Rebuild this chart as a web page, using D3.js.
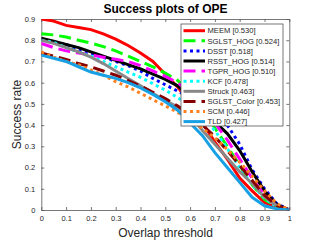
<!DOCTYPE html>
<html>
<head>
<meta charset="utf-8">
<script src="https://cdn.jsdelivr.net/npm/d3@7"></script>
<style>
  body { margin: 0; background: #fff; }
  text { font-family: "Liberation Sans", Arial, sans-serif; }
</style>
</head>
<body>
<div id="fig"></div>
<script>
const fig_width = 320
const fig_height = 240

// overlap thresholds 0:0.05:1
const thresholds = d3.range(21).map(i => i / 20)

const trackers = ['MEEM [0.530]', 'SGLST_HOG [0.524]', 'DSST [0.518]', 'RSST_HOG [0.514]', 'TGPR_HOG [0.510]',
    'KCF [0.478]', 'Struck [0.463]', 'SGLST_Color [0.453]', 'SCM [0.446]', 'TLD [0.427]']

const meem = [.90, .89, .87, .86, .85, .83, .805, .775, .74, .70, .64, .58, .50, .41, .32, .24, .15, .09, .035, .01, 0]
const sglst_hog = [.83, .825, .815, .80, .787, .77, .75, .725, .70, .675, .645, .61, .55, .48, .385, .30, .21, .12, .05, .015, 0]
const dsst = [.805, .79, .78, .755, .74, .72, .70, .68, .655, .62, .59, .56, .53, .495, .47, .40, .31, .19, .10, .03, 0]
const rsst_hog = [.81, .795, .78, .765, .745, .725, .705, .685, .665, .64, .615, .585, .535, .48, .415, .36, .28, .18, .09, .025, 0]
const tgpr_hog = [.785, .765, .75, .74, .73, .72, .71, .70, .68, .655, .63, .60, .55, .49, .41, .33, .24, .15, .07, .02, 0]
const kcf = [.80, .79, .765, .745, .725, .70, .675, .65, .625, .595, .565, .53, .49, .435, .375, .29, .20, .12, .055, .015, 0]
const struck = [.80, .785, .765, .745, .72, .69, .655, .62, .585, .55, .515, .485, .445, .375, .31, .245, .18, .125, .06, .02, 0]
const sglst_color = [.74, .725, .71, .69, .675, .655, .635, .61, .585, .555, .525, .49, .45, .40, .345, .28, .21, .14, .07, .02, 0]
const scm = [.745, .72, .70, .685, .66, .635, .605, .58, .55, .52, .49, .46, .425, .385, .34, .285, .225, .16, .09, .03, 0]
const tld = [.73, .715, .70, .675, .65, .635, .62, .60, .575, .545, .51, .47, .41, .35, .27, .20, .13, .06, .02, .005, 0]

const series = [meem, sglst_hog, dsst, rsst_hog, tgpr_hog, kcf, struck, sglst_color, scm, tld]
const colours = ['#ff0000', '#00ff00', '#0000ff', '#000000', '#ff00ff', '#00ffff', '#888888', '#850000', '#ff8020', '#18a0e4']
const dashes = [null, '12,6', '3,3.5', null, '12,6', '3,3.5', null, '12,6', '3,3.5', null]

const x_ticks = d3.range(11).map(i => i / 10)
const y_ticks = d3.range(10).map(i => i / 10)

let margin = {left: 41.3, right: 30.7, top: 19, bottom: 30}
let plot_w = fig_width - margin.left - margin.right
let plot_h = fig_height - margin.top - margin.bottom

let x = d3.scaleLinear().domain([0, 1]).range([0, plot_w])
let y = d3.scaleLinear().domain([0, 0.9]).range([plot_h, 0])

let fig = d3.select('#fig')
    .append('svg')
    .attr('width', fig_width)
    .attr('height', fig_height)

fig.append('rect').attr('width', fig_width).attr('height', fig_height).attr('fill', '#fff')

let g = fig.append('g').attr('transform', `translate(${margin.left},${margin.top})`)

g.append('clipPath').attr('id', 'clip')
    .append('rect').attr('width', plot_w).attr('height', plot_h)

// axes with inward ticks on all four sides (box on)
let axis_colour = '#555'
let tick_fmt = d => d === 0 ? '0' : d === 1 ? '1' : d3.format('.1f')(d)

let xb = g.append('g').attr('transform', `translate(0,${plot_h})`)
    .call(d3.axisBottom(x).tickValues(x_ticks).tickFormat(tick_fmt).tickSizeInner(-3).tickSizeOuter(0).tickPadding(6))
let xt = g.append('g')
    .call(d3.axisTop(x).tickValues(x_ticks).tickFormat('').tickSizeInner(-3).tickSizeOuter(0))
let yl = g.append('g')
    .call(d3.axisLeft(y).tickValues(y_ticks).tickFormat(tick_fmt).tickSizeInner(-3).tickSizeOuter(0).tickPadding(6))
let yr = g.append('g').attr('transform', `translate(${plot_w},0)`)
    .call(d3.axisRight(y).tickValues(y_ticks).tickFormat('').tickSizeInner(-3).tickSizeOuter(0))

;[xb, xt, yl, yr].forEach(a => {
    a.selectAll('path, line').attr('stroke', axis_colour).attr('stroke-width', 0.8)
    a.selectAll('text').attr('fill', '#262626').style('font-size', '7.5px')
        .style('font-family', '"Liberation Sans", Arial, sans-serif')
})

let line = d3.line()
    .x((d, i) => x(thresholds[i]))
    .y(d => y(d))

g.append('g').attr('clip-path', 'url(#clip)')
    .selectAll('path.curve')
    .data(series)
    .join('path')
    .attr('class', 'curve')
    .attr('d', line)
    .attr('fill', 'none')
    .attr('stroke', (d, i) => colours[i])
    .attr('stroke-width', 3)
    .attr('stroke-dasharray', (d, i) => dashes[i])

// legend box in the upper right
let legend = fig.append('g').attr('transform', 'translate(181,24)')
legend.append('rect')
    .attr('width', 102).attr('height', 102)
    .attr('fill', '#fff').attr('stroke', axis_colour).attr('stroke-width', 0.8)

let rows = legend.selectAll('g.row')
    .data(trackers)
    .join('g')
    .attr('class', 'row')
    .attr('transform', (d, i) => `translate(0,${6.7 + i * 10.1})`)

rows.append('line')
    .attr('x1', 2.5).attr('x2', 24)
    .attr('stroke', (d, i) => colours[i])
    .attr('stroke-width', 3)
    .attr('stroke-dasharray', (d, i) => dashes[i])

rows.append('text')
    .attr('x', 26.5).attr('y', 2.7)
    .attr('fill', '#262626')
    .style('font-size', '7.6px')
    .text(d => d)

fig.append('text')
    .attr('x', 165.5).attr('y', 13.3)
    .attr('text-anchor', 'middle')
    .attr('font-weight', 'bold')
    .style('font-size', '12px')
    .attr('fill', '#000')
    .text('Success plots of OPE')

fig.append('text')
    .attr('x', 165.5).attr('y', 237)
    .attr('text-anchor', 'middle')
    .style('font-size', '12px')
    .attr('fill', '#262626')
    .text('Overlap threshold')

fig.append('text')
    .attr('transform', 'translate(21,114.5) rotate(-90)')
    .attr('text-anchor', 'middle')
    .style('font-size', '12px')
    .attr('fill', '#262626')
    .text('Success rate')
</script>
</body>
</html>
